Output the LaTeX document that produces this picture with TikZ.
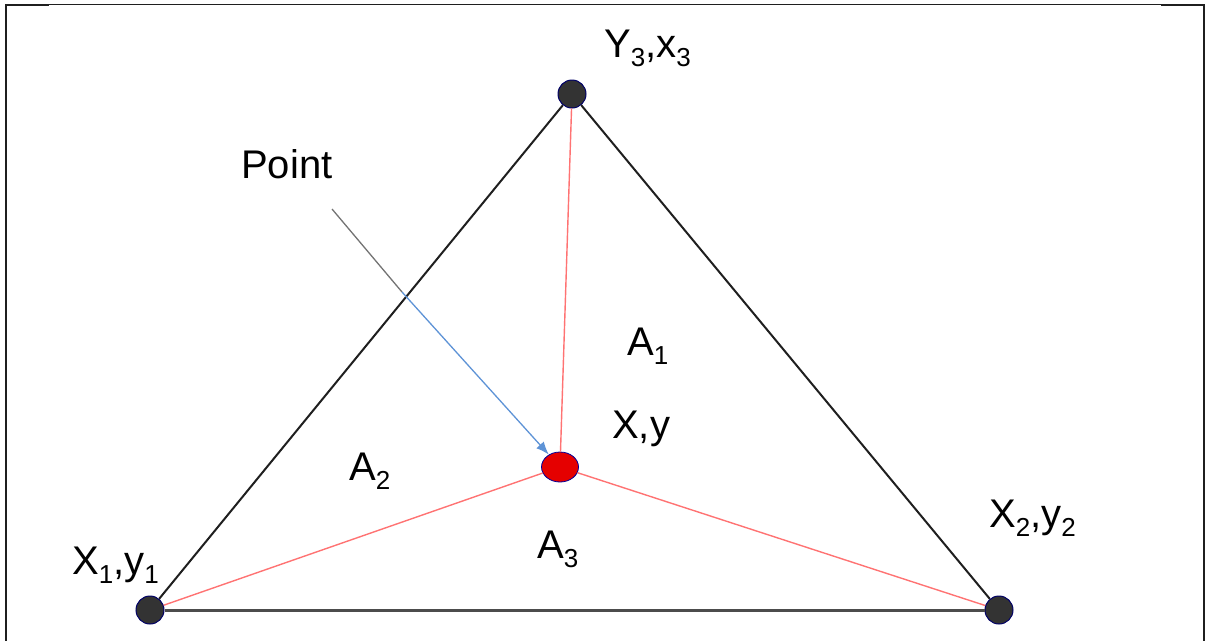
\documentclass[tikz,border=0pt]{standalone}
\usepackage{fontspec}
\setmainfont{Liberation Sans}
\usetikzlibrary{arrows.meta,shapes.geometric}
\newcommand\subnum[1]{\raisebox{-9pt}{\fontsize{26}{26}\selectfont #1}}
\definecolor{arrblue}{HTML}{5E93D6}
\tikzset{
  lbl/.style={anchor=base west,inner sep=0pt,font=\fontsize{40}{42}\selectfont},
  vtx/.style={circle,fill=black!80,draw=blue!40!black,line width=1pt,inner sep=0pt,minimum size=28pt},
  pt/.style={ellipse,fill=red!90!black,draw=blue!60!black,line width=0.8pt,inner sep=0pt,minimum width=37pt,minimum height=30pt},
  edge/.style={draw=black!88,line width=2pt},
  baseedge/.style={draw=black!70,line width=3pt},
  redln/.style={draw=red!55,line width=1.4pt},
  frm/.style={draw=black!88,line width=1.3pt},
  frmthick/.style={draw=black!88,line width=2.6pt}
}
\begin{document}
\begin{tikzpicture}[x=1pt,y=-1pt]
\useasboundingbox (0,0) rectangle (1206,641);
% frame
\draw[frm] (5,4.8) -- (1205,4.8);
\draw[frmthick] (5,5) -- (49,5);
\draw[frmthick] (1161,5) -- (1205,5);
\draw[frmthick] (6,4) -- (6,641);
\draw[frmthick] (1204,4) -- (1204,641);
% nodes
\node[vtx] (y3) at (572,94) {};
\node[vtx] (x1) at (150,610) {};
\node[vtx] (x2) at (999,610) {};
\node[pt] (c) at (560,467) {};
% edges
\draw[edge] (x1) -- (y3);
\draw[edge] (y3) -- (x2);
\draw[baseedge] (x1) -- (x2);
\draw[redln] (c) -- (y3);
\draw[redln] (c) -- (x1);
\draw[redln] (c) -- (x2);
% arrow
\coordinate (p0) at (332,209);
\coordinate (pm) at (402,292);
\draw[draw=black!55,line width=1.3pt] (p0) -- (pm);
\draw[draw=arrblue,line width=1.3pt,-{Latex[length=13pt,width=10pt]}] (pm) -- (c);
% labels
\node[lbl] (ly3) at (604,57) {Y\subnum{3},x\subnum{3}};
\node[lbl] (lp) at (241,178) {Point};
\node[lbl] (la1) at (627,355) {A\subnum{1}};
\node[lbl] (lxy) at (612,438) {X,y};
\node[lbl] (la2) at (349,480) {A\subnum{2}};
\node[lbl] (la3) at (537,558) {A\subnum{3}};
\node[lbl] (lx2) at (989,527) {X\subnum{2},y\subnum{2}};
\node[lbl] (lx1) at (72,574) {X\subnum{1},y\subnum{1}};
\end{tikzpicture}
\end{document}
